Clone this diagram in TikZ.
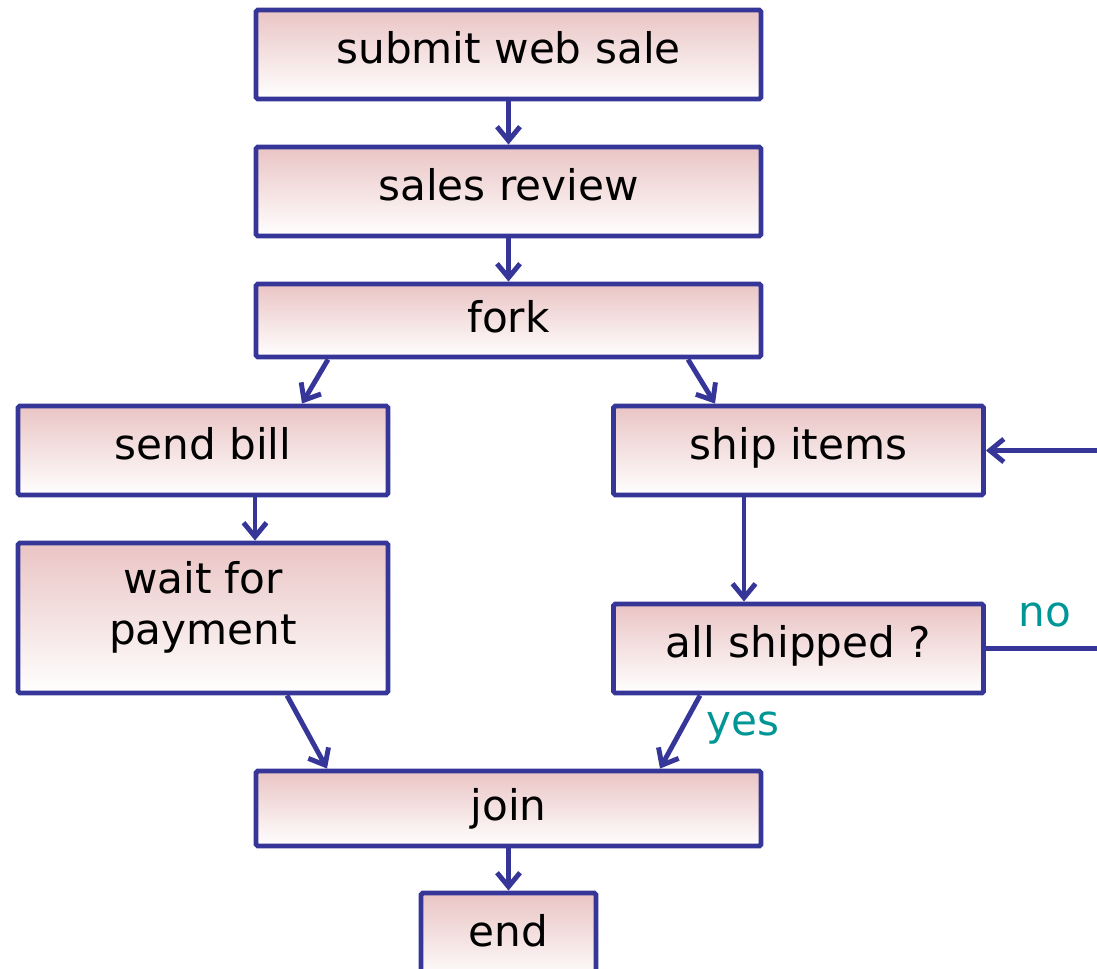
\documentclass[tikz,border=0pt]{standalone}
\usepackage{fontspec}
\setmainfont{DejaVu Sans}
\usetikzlibrary{arrows.meta}
\definecolor{flowblue}{RGB}{54,54,152}
\definecolor{flowpink}{RGB}{234,196,196}
\definecolor{flowteal}{RGB}{0,150,150}
\begin{document}
\begin{tikzpicture}[
    step box/.style={
        draw=flowblue,
        line width=2.8pt,
        rounded corners=1pt,
        top color=flowpink,
        bottom color=white,
        inner sep=0pt,
        align=center,
        text height=0.64cm,
        text depth=0.3cm,
        font=\fontsize{24}{28.5}\selectfont
    },
    flow/.style={
        draw=flowblue,
        line width=2.8pt,
        -{Straight Barb[length=2.8mm,width=4.6mm]}
    },
    guard/.style={
        text=flowteal,
        font=\fontsize{24}{28.5}\selectfont
    }
]
                \useasboundingbox (0,0) rectangle (21.94,-19.36);

                \node[
                    step box,
                    minimum width=10.1cm,
                    minimum height=1.78cm,
                    name=submit
                ] at (10.17,-1.09) {submit web sale};
                \node[
                    step box,
                    minimum width=10.1cm,
                    minimum height=1.78cm,
                    name=review
                ] at (10.17,-3.83) {sales review};
                \node[
                    step box,
                    minimum width=10.1cm,
                    minimum height=1.46cm,
                    text depth=0.18cm,
                    name=fork
                ] at (10.17,-6.41) {fork};

                \node[
                    step box,
                    minimum width=7.4cm,
                    minimum height=1.78cm,
                    name=bill
                ] at (4.06,-9.01) {send bill};
                \node[
                    step box,
                    minimum width=7.4cm,
                    minimum height=3.0cm,
                    text height=1.64cm,
                    text depth=0.6cm,
                    name=wait
                ] at (4.06,-12.36) {wait for\\payment};

                \node[
                    step box,
                    minimum width=7.4cm,
                    minimum height=1.78cm,
                    name=ship
                ] at (15.97,-9.01) {ship items};
                \node[
                    step box,
                    minimum width=7.4cm,
                    minimum height=1.78cm,
                    name=shipped
                ] at (15.97,-12.97) {all shipped ?};

                \node[
                    step box,
                    minimum width=10.1cm,
                    minimum height=1.5cm,
                    text depth=0.18cm,
                    name=join
                ] at (10.17,-16.17) {join};
                \node[
                    step box,
                    minimum width=3.5cm,
                    minimum height=1.78cm,
                    name=end
                ] at (10.17,-18.75) {end};

                \coordinate (loopin) at (21.94,-9.01);
                \coordinate (loopout) at (21.94,-12.97);

                \draw[flow] (submit) -- (review);
                \draw[flow] (review) -- (fork);

                \draw[flow] ([xshift=-3.61cm]fork.south) -- ([xshift=1.98cm]bill.north);
                \draw[flow] ([xshift=3.59cm]fork.south) -- ([xshift=-1.67cm]ship.north);

                \draw[flow] ([xshift=1.04cm]bill.south) -- ([xshift=1.04cm]wait.north);
                \draw[flow] ([xshift=-1.09cm]ship.south) -- ([xshift=-1.09cm]shipped.north);

                \draw[flow] ([xshift=1.68cm]wait.south) -- ([xshift=-3.63cm]join.north);
                \draw[flow] ([xshift=-1.97cm]shipped.south) -- ([xshift=3.03cm]join.north);
                \node[guard, name=yes] at (14.86,-14.56) {yes};

                \draw[flowblue, line width=2.8pt] (shipped.east) -- (loopout);
                \node[guard, name=no] at (20.9,-12.3) {no};
                \draw[flow] (loopin) -- (ship.east);

                \draw[flow] (join) -- (end);
            \end{tikzpicture}
\end{document}
